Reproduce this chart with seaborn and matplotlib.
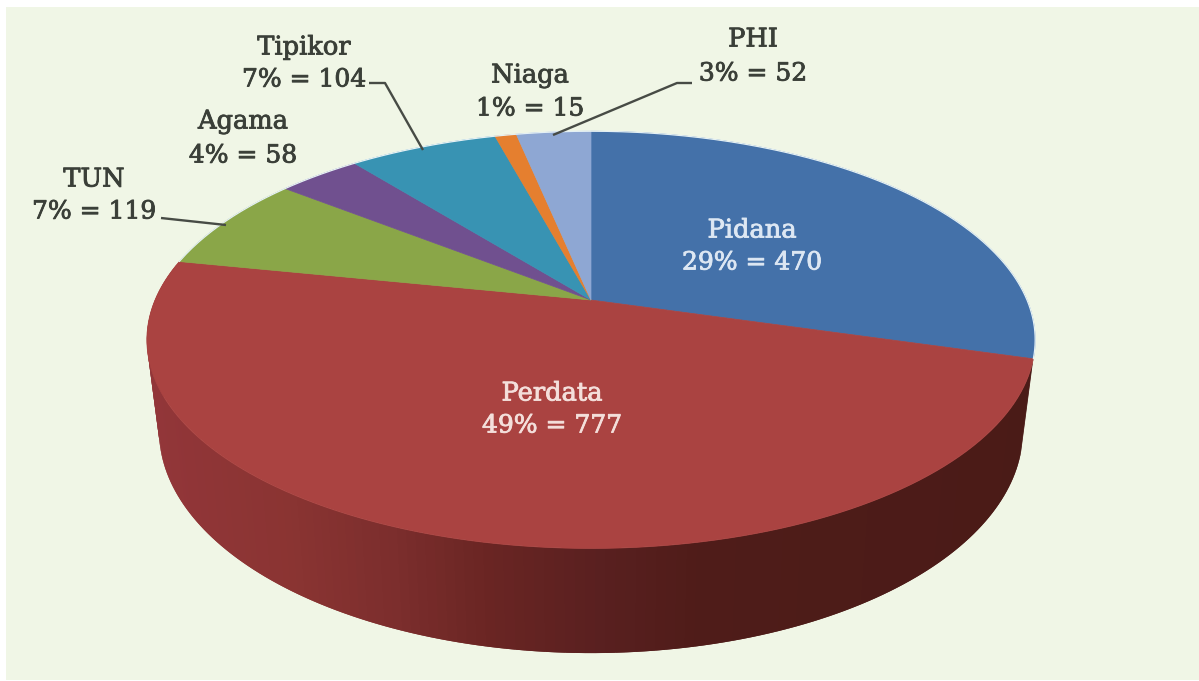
import numpy as np
import seaborn as sns
import matplotlib.pyplot as plt
import matplotlib.patheffects as pe
from matplotlib.colors import to_rgb
from matplotlib.patches import Polygon, Rectangle

categories = ['Pidana', 'Perdata', 'TUN', 'Agama', 'Tipikor', 'Niaga', 'PHI']
values = [470, 777, 119, 58, 104, 15, 52]
percents = [29, 49, 7, 4, 7, 1, 3]
colors = ['#4471a9', '#aa4341', '#8aa648', '#70508f', '#3893b3', '#e57f2f', '#8ea7d3']

# label centres in pixels: name line, value line
label_x = [752, 552, 94, 243, 304, 530, 753]
name_y = [230, 393, 179, 121, 47, 75, 39]
value_y = [263, 426, 212, 156, 80, 109, 74]
label_colors = ['#dde7f3', '#f4dfdb', '#3a3f38', '#3a3f38', '#3a3f38', '#3a3f38', '#3a3f38']

leaders = [
    ([161, 226], [218, 225]),
    ([369, 385, 423], [83, 83, 150]),
    ([692, 677, 553], [83, 83, 135]),
]

# wall shading from left to right
wall_x = [148, 300, 400, 500, 600, 700, 1035]
wall_colors = ['#93363a', '#8a3432', '#7c2e2d', '#692523', '#5a2020', '#4f1c19', '#4a1b17']

TILT = 0.191


def project_top(theta):
    u, v = np.cos(theta), np.sin(theta)
    return 591 + 436 * u / (1 + TILT * v), 300 - 201 * v / (1 + TILT * v)


def project_bottom(theta):
    u, v = np.cos(theta), np.sin(theta)
    return 591 + 424 * u / (1 + TILT * v), 388.6 - 214 * v / (1 + TILT * v)


def wall_color(x):
    rgb = np.array([to_rgb(c) for c in wall_colors])
    return [np.interp(x, wall_x, rgb[:, i]) for i in range(3)]


sns.set_theme(style="white")
plt.rcParams['font.family'] = ['DejaVu Serif']

fig = plt.figure(figsize=(11.99, 6.81), dpi=100, facecolor='white')
ax = fig.add_axes([0, 0, 1, 1])

# the pie gives the wedge angles, they are then drawn in perspective
wedges, _ = ax.pie(values, colors=colors, startangle=90, counterclock=False)
angles = [(w.theta1, w.theta2) for w in wedges]
for w in wedges:
    w.remove()

ax.set_aspect('auto')
ax.set_xlim(0, 1199)
ax.set_ylim(681, 0)
ax.axis('off')

ax.add_patch(Rectangle((6, 7), 1193, 673, facecolor='#f0f6e6', edgecolor='none', zorder=0))

# side wall of the red slice, strips overlap so no seams show
t1, t2 = np.radians(angles[1])
steps = np.linspace(t1, t2, 161)
for a, b in zip(steps[:-2], steps[2:]):
    xa, ya = project_top(a)
    xb, yb = project_top(b)
    xc, yc = project_bottom(b)
    xd, yd = project_bottom(a)
    col = wall_color((xc + xd) / 2)
    ax.add_patch(Polygon([(xa, ya), (xb, yb), (xc, yc), (xd, yd)], closed=True,
                         facecolor=col, edgecolor='none', zorder=1))

# top face
for (a1, a2), col in zip(angles, colors):
    thetas = np.radians(np.linspace(a1, a2, 120))
    xs, ys = project_top(thetas)
    pts = [(591, 300)] + list(zip(xs, ys))
    ax.add_patch(Polygon(pts, closed=True, facecolor=col, edgecolor=col,
                         linewidth=0.5, zorder=2))

# pale rim along the back of the top face, everything except the red slice
rim = np.radians(np.linspace(angles[1][1], angles[1][0] + 360, 300))
rim_x, rim_y = project_top(rim)
ax.plot(rim_x, rim_y, color='#e4f0f4', lw=0.9, zorder=3)

for xs, ys in leaders:
    ax.plot(xs, ys, color='#474b45', lw=1.7, zorder=4, solid_capstyle='butt')

for i, name in enumerate(categories):
    thick = [pe.withStroke(linewidth=0.6, foreground=label_colors[i])]
    ax.text(label_x[i], name_y[i], name, ha='center', va='center', fontsize=18.5,
            color=label_colors[i], zorder=5, path_effects=thick)
    ax.text(label_x[i], value_y[i], f'{percents[i]}% = {values[i]}', ha='center',
            va='center', fontsize=18, color=label_colors[i], zorder=5, path_effects=thick)

fig.savefig('out.png', dpi=100, facecolor='white')
